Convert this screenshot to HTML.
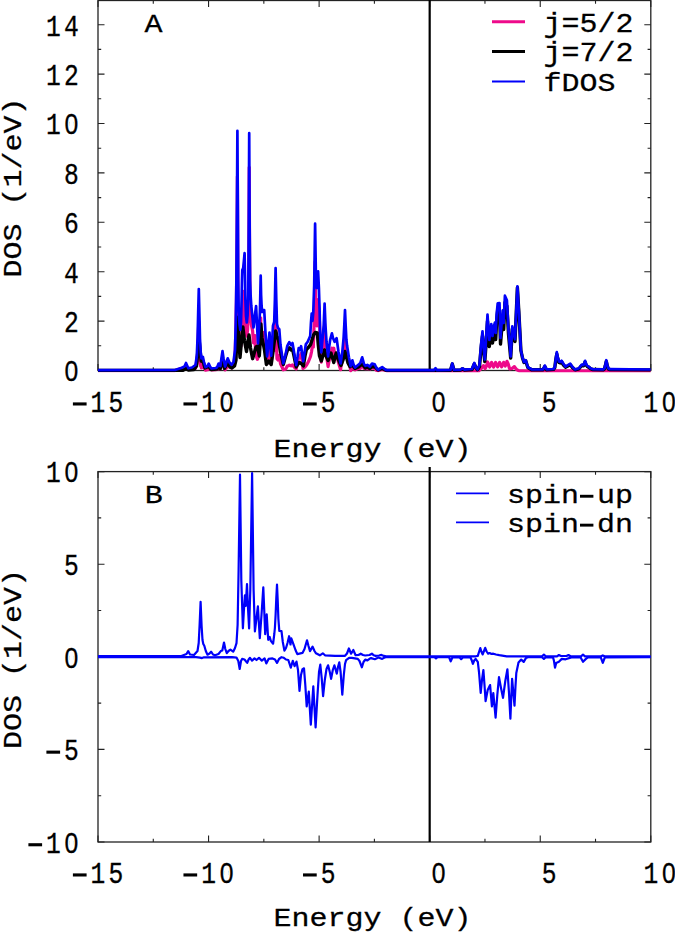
<!DOCTYPE html>
<html><head><meta charset="utf-8"><title>DOS</title>
<style>html,body{margin:0;padding:0;background:#fff}svg{display:block}</style></head><body>
<svg width="675" height="933" viewBox="0 0 675 933" style="font-family:'Liberation Mono',monospace;font-size:30px" fill="#000">
<rect width="675" height="933" fill="#fff"/>
<defs><clipPath id="ca"><rect x="98.0" y="0" width="552.80" height="372.5"/></clipPath><clipPath id="cb"><rect x="98.0" y="471.6" width="552.80" height="370.40"/></clipPath></defs>
<path d="M98.00 370.5v-6.5M98.00 0.5v6.5M208.56 370.5v-6.5M208.56 0.5v6.5M319.12 370.5v-6.5M319.12 0.5v6.5M429.68 370.5v-6.5M429.68 0.5v6.5M540.24 370.5v-6.5M540.24 0.5v6.5M650.80 370.5v-6.5M650.80 0.5v6.5M153.28 370.5v-3.2M153.28 0.5v3.2M263.84 370.5v-3.2M263.84 0.5v3.2M374.40 370.5v-3.2M374.40 0.5v3.2M484.96 370.5v-3.2M484.96 0.5v3.2M595.52 370.5v-3.2M595.52 0.5v3.2M98.0 370.50h6.5M650.8 370.50h-6.5M98.0 321.10h6.5M650.8 321.10h-6.5M98.0 271.70h6.5M650.8 271.70h-6.5M98.0 222.30h6.5M650.8 222.30h-6.5M98.0 172.90h6.5M650.8 172.90h-6.5M98.0 123.50h6.5M650.8 123.50h-6.5M98.0 74.10h6.5M650.8 74.10h-6.5M98.0 24.70h6.5M650.8 24.70h-6.5M98.0 345.80h3.2M650.8 345.80h-3.2M98.0 296.40h3.2M650.8 296.40h-3.2M98.0 247.00h3.2M650.8 247.00h-3.2M98.0 197.60h3.2M650.8 197.60h-3.2M98.0 148.20h3.2M650.8 148.20h-3.2M98.0 98.80h3.2M650.8 98.80h-3.2M98.0 49.40h3.2M650.8 49.40h-3.2" stroke="#222" stroke-width="1.1" fill="none"/>
<rect x="98.0" y="0.5" width="552.80" height="370.00" fill="none" stroke="#222" stroke-width="1.3"/>
<path d="M429.68 0V370.5" stroke="#000" stroke-width="2.2"/>
<path d="M98.0 370.6L175.0 370.6L181.8 368.3L183.0 367.8L184.5 367.9L186.0 365.3L187.5 367.9L188.4 369.2L188.5 369.1L192.0 368.6L194.0 367.4L195.5 368.4L196.5 362.9L196.8 364.0L197.6 353.6L197.8 347.5L198.2 336.3L198.8 321.4L198.9 327.0L199.4 341.9L200.0 359.8L200.7 366.4L201.2 366.3L201.4 368.0L202.9 366.3L203.0 366.8L204.0 368.1L205.0 368.3L205.5 370.2L207.5 369.8L208.7 367.9L210.0 369.1L211.0 369.1L211.5 369.8L216.2 369.7L217.0 368.9L217.5 369.1L218.6 367.9L219.6 368.7L220.4 368.3L221.5 365.8L222.5 364.0L223.6 366.0L224.5 365.9L225.1 369.9L226.5 367.7L227.7 366.1L229.5 367.2L230.0 366.8L231.6 367.8L232.0 367.0L233.5 366.0L234.5 358.8L235.0 356.8L235.8 332.0L236.0 318.8L236.4 301.9L236.9 249.1L237.0 237.8L237.4 176.4L237.8 253.5L238.2 324.4L238.7 345.1L238.8 344.3L239.5 344.6L240.0 340.9L240.3 346.4L241.0 346.3L241.2 341.0L241.8 335.0L242.6 318.0L243.2 300.0L243.7 291.3L244.2 300.0L245.0 320.0L246.0 333.0L246.8 336.0L247.6 330.0L248.3 310.0L248.8 254.6L249.0 212.4L249.2 167.3L249.6 250.6L250.1 306.3L250.5 314.8L250.6 317.3L251.3 324.7L252.6 330.8L253.5 342.8L254.5 338.0L255.0 335.5L255.5 352.0L256.5 357.0L257.4 359.3L258.3 357.0L259.2 350.0L259.3 338.8L259.9 336.2L260.0 333.5L260.3 327.8L260.7 317.8L260.9 332.1L261.1 339.3L261.6 343.9L262.0 342.8L262.2 343.9L263.0 338.1L263.5 335.8L264.2 332.3L264.5 336.3L265.3 344.7L266.4 352.4L267.1 363.5L268.3 353.9L269.0 347.5L269.5 341.5L270.3 352.7L271.2 362.0L272.2 353.2L273.0 344.5L274.2 350.4L274.5 343.4L274.9 333.8L275.6 307.1L275.7 312.4L276.3 337.5L277.0 358.8L278.0 360.1L278.5 359.3L279.3 355.3L280.5 363.8L283.3 369.8L285.5 369.3L287.3 366.1L288.3 365.7L289.3 365.2L291.0 365.8L292.5 365.0L294.0 366.8L294.2 367.0L296.2 368.9L297.5 363.0L298.0 360.1L298.7 355.8L299.4 357.5L299.8 357.9L301.1 353.6L301.2 354.3L302.0 359.4L303.0 368.5L305.0 367.0L306.6 365.0L308.5 361.5L310.5 356.5L311.5 352.0L312.5 345.0L313.3 347.1L313.5 341.8L314.2 321.8L315.1 261.7L315.3 275.0L316.0 320.1L316.8 325.9L317.3 322.5L317.4 320.6L318.1 299.6L318.3 301.3L318.9 308.3L319.5 321.7L319.6 324.5L320.3 352.6L321.3 362.1L322.6 352.4L323.0 349.1L323.7 343.1L324.5 326.8L324.6 324.0L325.5 342.8L326.0 348.8L326.5 355.7L328.1 366.6L329.0 361.2L329.5 359.3L330.1 356.2L331.0 354.6L331.9 348.2L332.5 348.7L333.0 349.1L333.8 348.2L334.6 353.8L335.0 354.9L336.2 356.7L336.6 354.8L338.5 362.8L340.6 369.7L341.0 366.1L342.3 360.9L343.0 355.3L343.6 351.4L344.3 341.3L345.0 329.3L345.7 342.7L346.4 354.2L346.5 354.6L347.1 357.2L348.0 359.4L348.9 363.4L350.0 366.8L350.7 370.8L352.4 366.2L353.7 369.1L355.0 369.7L355.1 369.9L358.5 368.4L358.7 368.4L360.3 368.3L361.3 366.1L362.2 364.1L363.1 366.1L364.0 368.5L365.3 368.6L367.3 368.7L369.8 369.0L372.0 367.9L374.7 368.2L375.0 368.8L376.5 370.4L378.2 370.6L380.5 369.9L382.2 369.4L384.5 370.2L386.0 370.3L386.7 370.9L478.9 370.9L479.0 370.5L481.2 368.5L483.4 365.6L485.2 368.6L486.5 366.0L487.6 362.0L489.6 367.0L491.6 362.5L493.6 367.0L495.6 362.5L497.6 366.8L499.6 362.5L501.6 366.8L503.6 362.3L505.3 366.0L507.0 361.3L508.2 364.0L509.6 368.8L512.0 368.5L514.4 366.6L516.5 369.5L519.0 370.8L519.1 370.9L650.8 370.9" fill="none" stroke="#ee0a8a" stroke-width="3.2" stroke-linejoin="round" stroke-linecap="butt" clip-path="url(#ca)"/>
<path d="M98.0 370.4L183.0 370.2L186.0 368.5L188.5 370.0L194.0 369.5L196.5 366.0L197.8 352.0L198.9 337.0L200.0 350.0L201.2 361.0L203.0 361.5L205.0 368.0L208.7 366.5L211.0 369.5L217.0 369.0L218.6 366.5L220.4 368.5L222.5 358.0L224.5 368.5L227.7 363.0L230.0 367.0L232.0 368.0L234.5 366.0L236.0 360.0L236.9 335.0L237.8 317.3L238.8 340.0L240.0 357.5L241.5 341.0L242.9 327.0L244.5 341.0L246.5 351.5L247.8 342.0L249.0 335.0L250.5 348.0L252.6 358.7L254.5 352.0L256.0 347.0L257.7 346.0L259.3 356.0L260.0 345.0L260.9 324.0L262.0 338.0L263.5 345.0L264.5 350.0L266.4 364.5L269.0 361.0L271.2 364.5L273.0 352.0L274.5 340.0L275.7 331.0L277.0 336.0L278.5 340.0L280.5 352.0L283.3 364.5L285.5 356.5L287.3 350.5L289.3 347.8L291.0 350.0L292.5 348.8L294.2 357.0L296.2 367.0L298.0 364.0L299.4 362.5L301.2 363.5L303.4 366.0L305.0 356.0L306.4 349.5L308.8 347.0L310.6 344.5L312.0 340.0L313.5 335.0L315.3 332.5L317.3 333.0L318.3 345.0L319.5 356.0L321.3 361.0L323.0 355.0L324.5 350.0L326.0 356.0L328.1 360.5L329.5 356.0L331.0 353.0L332.5 358.0L333.8 362.5L335.0 357.0L336.2 353.0L338.5 360.0L341.0 365.5L343.0 360.0L345.0 351.5L346.5 357.0L348.0 363.0L350.0 366.7L352.4 365.0L355.0 368.5L358.5 367.0L362.2 364.0L365.3 368.0L367.3 367.0L369.8 368.5L372.0 366.5L375.0 367.0L378.2 370.0L382.2 368.5L386.0 370.3L429.8 370.4L450.5 370.3L452.3 364.0L454.0 370.3L460.5 370.0L462.5 368.8L464.5 370.0L472.0 369.5L474.3 364.0L476.0 368.0L477.5 369.8L479.5 366.5L481.0 349.0L482.5 336.0L483.6 351.0L484.8 361.5L486.0 345.0L487.5 321.0L488.4 335.0L489.3 346.5L490.3 337.0L491.3 331.0L492.5 343.0L493.7 334.0L494.9 329.5L495.7 339.5L496.6 322.0L497.7 310.0L499.5 310.0L500.5 344.0L501.7 329.0L502.9 317.0L503.7 329.5L504.9 302.5L506.9 306.0L508.5 334.0L510.7 358.0L512.3 329.0L515.0 341.5L516.3 312.0L517.4 287.5L518.8 311.0L520.9 350.5L522.5 358.0L524.0 362.5L525.7 360.8L527.8 367.5L531.6 369.7L543.0 369.8L544.8 366.5L546.5 369.7L553.5 369.4L554.8 367.6L555.8 359.5L556.8 354.0L557.8 358.8L559.0 362.5L560.3 363.0L561.6 362.0L563.5 365.0L565.5 367.2L570.3 364.8L572.5 367.6L575.1 369.8L579.0 368.8L581.0 366.3L582.0 365.4L583.5 365.8L584.3 364.0L585.1 362.0L585.9 364.4L587.0 366.2L588.6 367.2L590.5 368.7L592.4 369.5L603.2 369.7L604.4 369.0L605.3 365.8L606.3 361.5L607.3 365.8L608.3 369.0L610.0 369.6L650.8 369.9" fill="none" stroke="#000" stroke-width="3.4" stroke-linejoin="round" stroke-linecap="butt" clip-path="url(#ca)"/>
<path d="M98.0 370.2L175.0 370.0L181.8 367.7L184.5 366.5L186.0 363.0L187.5 366.5L188.4 368.3L192.0 367.5L195.5 365.0L196.8 356.0L197.6 337.0L198.2 312.0L198.8 289.0L199.4 314.0L200.0 339.0L200.7 352.0L201.4 358.3L202.9 357.0L204.0 362.0L205.5 367.2L207.5 366.0L208.7 363.6L210.0 366.5L211.5 368.5L216.2 368.0L217.5 366.5L218.6 363.6L219.6 365.5L220.4 366.0L221.5 358.0L222.5 351.2L223.6 359.0L225.1 366.6L226.5 362.0L227.7 358.3L229.5 362.5L231.6 364.8L233.5 362.0L235.0 350.0L235.8 322.0L236.4 280.0L237.0 200.0L237.4 130.8L237.8 200.0L238.2 280.0L238.7 312.0L239.5 324.0L240.3 329.8L241.0 322.0L241.6 300.0L242.0 280.0L242.3 270.0L243.2 268.0L243.9 261.0L244.6 253.2L245.0 275.0L245.4 300.0L246.0 316.0L246.8 322.5L247.6 315.0L248.3 295.0L248.8 220.0L249.2 133.2L249.6 220.0L250.1 280.0L250.6 295.0L251.3 306.0L253.5 327.5L255.0 315.0L256.1 306.0L257.0 325.0L258.0 343.3L259.2 326.0L259.9 312.0L260.3 295.0L260.7 275.7L261.1 295.0L261.6 306.0L262.2 312.0L263.0 310.0L264.2 310.0L265.3 330.0L267.1 356.3L268.3 345.0L269.5 332.5L270.3 345.0L271.2 355.7L272.2 340.0L273.0 325.7L274.2 322.0L274.9 300.0L275.6 268.0L276.3 300.0L277.0 324.0L278.0 328.0L279.3 329.3L280.5 345.0L283.3 363.5L285.5 355.0L287.3 345.8L288.3 344.0L289.3 342.2L291.0 345.0L292.5 343.0L294.0 352.0L296.2 365.1L297.5 357.0L298.7 348.2L299.8 349.8L301.1 346.2L302.0 353.0L303.2 361.3L304.5 353.0L305.8 344.4L307.7 341.8L310.2 336.0L311.0 322.0L311.7 313.5L312.5 321.0L313.3 312.0L314.2 285.0L315.1 223.7L316.0 282.0L316.8 288.0L317.4 284.0L318.1 271.4L318.9 288.0L319.6 310.0L320.3 340.0L321.3 352.3L322.6 338.0L323.7 325.0L324.6 303.6L325.5 326.0L326.5 342.0L328.1 356.3L329.0 348.0L330.1 340.2L331.9 333.4L333.0 338.0L334.6 341.8L336.6 338.2L338.5 352.0L340.6 363.5L342.3 352.0L343.6 338.0L344.3 325.0L345.0 310.0L345.7 326.0L346.4 340.0L347.1 345.8L348.9 357.3L350.7 366.2L352.4 360.4L353.7 365.0L355.1 367.6L358.7 364.4L360.3 363.0L361.3 360.0L362.2 357.3L363.1 360.5L364.0 364.0L365.3 365.8L367.3 364.9L369.8 366.7L372.0 363.6L374.7 364.4L376.5 368.0L378.2 369.8L380.5 368.2L382.2 367.1L384.5 369.0L386.7 370.2L429.8 370.2L434.0 370.2L435.6 368.2L437.0 370.2L450.5 370.0L452.3 363.5L454.0 370.0L460.5 369.7L462.5 368.4L464.5 369.7L472.0 369.0L474.3 363.0L475.8 367.5L477.5 369.5L479.5 365.0L481.0 345.0L482.5 331.3L483.6 348.0L484.8 359.5L486.0 340.0L487.5 314.7L488.4 328.0L489.3 340.0L490.3 330.0L491.3 324.0L492.5 336.0L493.7 327.0L494.9 322.6L495.7 333.0L496.6 315.0L497.7 303.3L499.5 303.0L500.5 338.0L501.7 322.0L502.9 310.4L503.7 323.0L504.9 295.7L506.9 300.2L508.5 330.0L510.7 356.5L512.3 326.4L515.0 339.3L516.3 310.0L517.4 286.3L518.8 310.0L520.9 350.0L522.5 357.5L524.0 362.0L525.7 360.2L527.8 367.2L531.6 369.3L543.0 369.5L544.8 365.6L546.5 369.3L553.5 369.0L554.8 367.0L555.8 358.5L556.8 352.2L557.8 357.5L559.0 361.5L560.3 362.0L561.6 360.8L563.5 364.0L565.5 366.6L570.3 363.7L572.5 367.0L575.1 369.5L579.0 368.3L581.0 365.5L582.0 364.5L583.5 365.0L584.3 363.0L585.1 360.8L585.9 363.5L587.0 365.5L588.6 366.6L590.5 368.3L592.4 369.1L603.2 369.3L604.4 368.5L605.3 365.0L606.3 360.2L607.3 365.0L608.3 368.5L610.0 369.2L650.8 369.5" fill="none" stroke="#0000fa" stroke-width="2.7" stroke-linejoin="round" stroke-linecap="butt" clip-path="url(#ca)"/>
<path d="M98.00 842.0v-6.5M98.00 471.6v6.5M208.56 842.0v-6.5M208.56 471.6v6.5M319.12 842.0v-6.5M319.12 471.6v6.5M429.68 842.0v-6.5M429.68 471.6v6.5M540.24 842.0v-6.5M540.24 471.6v6.5M650.80 842.0v-6.5M650.80 471.6v6.5M153.28 842.0v-3.2M153.28 471.6v3.2M263.84 842.0v-3.2M263.84 471.6v3.2M374.40 842.0v-3.2M374.40 471.6v3.2M484.96 842.0v-3.2M484.96 471.6v3.2M595.52 842.0v-3.2M595.52 471.6v3.2M98.0 842.00h6.5M650.8 842.00h-6.5M98.0 749.40h6.5M650.8 749.40h-6.5M98.0 656.80h6.5M650.8 656.80h-6.5M98.0 564.20h6.5M650.8 564.20h-6.5M98.0 471.60h6.5M650.8 471.60h-6.5M98.0 795.70h3.2M650.8 795.70h-3.2M98.0 703.10h3.2M650.8 703.10h-3.2M98.0 610.50h3.2M650.8 610.50h-3.2M98.0 517.90h3.2M650.8 517.90h-3.2" stroke="#222" stroke-width="1.1" fill="none"/>
<rect x="98.0" y="471.6" width="552.80" height="370.40" fill="none" stroke="#222" stroke-width="1.3"/>
<path d="M429.68 466.90V842.0" stroke="#000" stroke-width="2.2"/>
<path d="M98.0 656.2L180.7 656.2L186.5 654.0L188.2 651.1L190.0 654.5L194.0 655.0L197.5 651.0L198.7 643.0L199.6 625.0L200.6 601.8L201.6 626.0L202.5 640.0L203.3 644.0L204.3 645.7L205.8 651.0L207.5 654.7L209.5 653.5L211.1 651.7L213.0 654.5L215.0 655.3L218.5 654.0L220.8 651.1L222.3 650.5L224.0 642.5L225.3 649.0L226.8 653.2L228.5 651.0L230.4 649.6L233.2 651.7L235.0 648.0L236.5 643.2L237.6 625.0L238.6 570.0L240.0 474.7L241.3 580.0L242.9 628.3L243.8 612.0L244.9 595.3L245.7 606.0L247.0 584.1L248.0 608.0L249.1 628.5L250.3 590.0L252.1 473.2L253.6 590.0L254.9 631.4L256.5 618.0L257.9 606.4L258.8 622.0L259.8 638.1L261.5 615.0L263.3 587.4L264.3 612.0L265.2 634.2L266.7 614.3L267.5 628.0L268.2 639.8L269.7 637.0L270.8 640.9L273.1 643.7L274.3 634.0L274.9 628.0L275.6 615.0L276.3 598.0L277.0 584.6L277.7 600.0L278.4 619.0L279.3 630.8L281.5 631.2L282.8 642.0L284.4 650.6L286.0 648.0L287.5 643.0L289.1 636.2L290.5 644.5L291.3 638.3L293.5 644.3L295.5 650.0L297.3 654.1L302.5 652.9L304.5 649.0L307.0 640.3L308.5 646.0L310.0 651.1L312.6 646.6L314.5 651.0L316.0 653.3L319.8 655.3L322.8 653.3L325.0 655.3L335.0 655.8L345.0 655.8L347.0 653.5L348.9 648.5L351.1 653.7L353.3 650.0L355.6 655.2L358.5 655.0L360.7 653.7L363.0 655.0L365.2 655.5L369.5 655.0L371.9 653.7L373.8 655.3L375.6 655.9L379.0 655.5L381.5 654.9L384.0 655.9L386.0 656.3L476.0 656.3L477.8 655.9L479.0 652.0L480.3 648.1L481.5 652.0L482.7 654.4L484.0 651.0L485.2 647.8L486.6 651.5L488.1 653.7L489.6 653.0L491.5 653.9L493.3 653.7L496.0 654.5L499.3 655.2L506.7 656.3L542.0 656.3L543.9 654.7L545.8 656.3L557.0 656.3L558.9 655.0L561.0 656.0L566.5 656.0L568.5 655.0L570.5 656.2L581.0 656.3L583.0 654.7L585.0 656.3L601.0 656.3L602.8 655.4L604.6 656.3L650.8 656.3" fill="none" stroke="#0000fa" stroke-width="2.2" stroke-linejoin="round" stroke-linecap="butt" clip-path="url(#cb)"/>
<path d="M98.0 657.1L196.0 657.1L200.0 657.6L202.0 658.1L204.0 657.3L232.0 657.2L236.5 657.6L238.3 661.0L239.7 669.0L241.0 661.0L242.1 658.9L244.5 659.5L247.2 662.9L248.6 659.5L250.0 657.8L252.0 660.6L254.5 658.4L256.5 660.0L259.0 657.8L261.8 660.6L264.6 658.4L266.3 663.4L268.6 658.9L272.5 658.4L275.0 659.5L277.0 662.9L279.0 659.0L281.5 657.2L283.8 657.8L286.0 659.5L288.3 660.0L290.8 667.6L292.8 660.8L294.6 666.1L296.5 661.6L298.0 670.0L299.5 690.9L301.0 675.0L302.5 669.1L304.0 668.3L305.3 685.0L306.7 706.4L308.8 691.6L310.8 724.7L313.3 686.4L315.6 727.4L317.5 695.0L319.0 672.0L320.3 664.6L321.7 678.0L323.1 696.1L324.8 680.0L326.5 669.0L328.1 665.3L329.8 672.0L331.1 678.9L332.8 670.0L334.4 665.3L336.8 673.6L338.0 667.0L339.3 662.3L340.6 672.0L342.3 694.6L343.8 675.0L345.0 664.0L346.1 660.1L349.1 657.8L351.9 657.9L357.8 658.9L359.5 661.0L361.9 667.3L363.5 662.0L365.2 659.6L367.4 660.4L369.5 658.8L371.1 658.1L374.8 659.2L378.5 657.4L382.2 658.9L385.0 657.3L386.0 657.1L434.5 657.1L436.0 658.4L437.5 657.1L449.0 657.2L450.7 661.4L452.5 657.3L459.5 657.2L461.2 659.2L463.0 657.3L470.5 657.5L471.8 660.5L472.9 663.8L474.2 660.5L475.6 658.9L477.8 661.9L479.0 672.0L480.7 693.0L482.0 680.0L483.4 670.0L484.5 685.0L485.6 701.1L487.7 690.0L490.1 685.1L491.9 706.3L493.3 693.0L495.6 717.7L497.3 695.0L499.0 677.1L501.0 688.0L503.0 697.9L505.3 681.0L507.4 669.3L509.0 693.0L510.4 718.6L511.3 697.0L512.1 678.9L513.3 692.0L514.5 705.6L515.5 686.0L516.3 673.0L518.5 662.6L521.2 659.6L523.7 661.9L525.9 658.1L528.0 657.2L542.0 657.2L543.9 658.9L545.8 657.2L553.0 657.3L554.0 661.0L555.0 667.6L556.2 663.0L558.9 661.8L561.8 658.9L565.6 659.3L571.4 657.4L580.5 657.3L583.0 661.8L585.9 658.9L588.0 657.3L600.8 657.3L602.8 662.8L604.8 657.5L650.8 657.1" fill="none" stroke="#0000fa" stroke-width="2.2" stroke-linejoin="round" stroke-linecap="butt" clip-path="url(#cb)"/>
<text transform="translate(71.50,381.30) scale(0.88,1.04)" text-anchor="middle" font-size="28" stroke="#000" stroke-width="0.3">0</text>
<ellipse cx="71.50" cy="371.60" rx="2.2" ry="4.4" fill="#fff"/>
<text transform="translate(71.50,331.90) scale(0.88,1.04)" text-anchor="middle" font-size="28" stroke="#000" stroke-width="0.3">2</text>
<text transform="translate(71.50,282.50) scale(0.88,1.04)" text-anchor="middle" font-size="28" stroke="#000" stroke-width="0.3">4</text>
<text transform="translate(71.50,233.10) scale(0.88,1.04)" text-anchor="middle" font-size="28" stroke="#000" stroke-width="0.3">6</text>
<text transform="translate(71.50,183.70) scale(0.88,1.04)" text-anchor="middle" font-size="28" stroke="#000" stroke-width="0.3">8</text>
<text transform="translate(53.50,134.30) scale(0.88,1.04)" text-anchor="middle" font-size="28" stroke="#000" stroke-width="0.3">1</text>
<text transform="translate(71.50,134.30) scale(0.88,1.04)" text-anchor="middle" font-size="28" stroke="#000" stroke-width="0.3">0</text>
<ellipse cx="71.50" cy="124.60" rx="2.2" ry="4.4" fill="#fff"/>
<text transform="translate(53.50,84.90) scale(0.88,1.04)" text-anchor="middle" font-size="28" stroke="#000" stroke-width="0.3">1</text>
<text transform="translate(71.50,84.90) scale(0.88,1.04)" text-anchor="middle" font-size="28" stroke="#000" stroke-width="0.3">2</text>
<text transform="translate(53.50,35.50) scale(0.88,1.04)" text-anchor="middle" font-size="28" stroke="#000" stroke-width="0.3">1</text>
<text transform="translate(71.50,35.50) scale(0.88,1.04)" text-anchor="middle" font-size="28" stroke="#000" stroke-width="0.3">4</text>
<rect x="28.40" y="843.20" width="13.7" height="3.1" fill="#000"/>
<text transform="translate(53.50,852.80) scale(0.88,1.04)" text-anchor="middle" font-size="28" stroke="#000" stroke-width="0.3">1</text>
<text transform="translate(71.50,852.80) scale(0.88,1.04)" text-anchor="middle" font-size="28" stroke="#000" stroke-width="0.3">0</text>
<ellipse cx="71.50" cy="843.10" rx="2.2" ry="4.4" fill="#fff"/>
<rect x="46.40" y="750.60" width="13.7" height="3.1" fill="#000"/>
<text transform="translate(71.50,760.20) scale(0.88,1.04)" text-anchor="middle" font-size="28" stroke="#000" stroke-width="0.3">5</text>
<text transform="translate(71.50,667.60) scale(0.88,1.04)" text-anchor="middle" font-size="28" stroke="#000" stroke-width="0.3">0</text>
<ellipse cx="71.50" cy="657.90" rx="2.2" ry="4.4" fill="#fff"/>
<text transform="translate(71.50,575.00) scale(0.88,1.04)" text-anchor="middle" font-size="28" stroke="#000" stroke-width="0.3">5</text>
<text transform="translate(53.50,482.40) scale(0.88,1.04)" text-anchor="middle" font-size="28" stroke="#000" stroke-width="0.3">1</text>
<text transform="translate(71.50,482.40) scale(0.88,1.04)" text-anchor="middle" font-size="28" stroke="#000" stroke-width="0.3">0</text>
<ellipse cx="71.50" cy="472.70" rx="2.2" ry="4.4" fill="#fff"/>
<rect x="72.90" y="402.40" width="13.7" height="3.1" fill="#000"/>
<text transform="translate(98.00,412.00) scale(0.88,1.04)" text-anchor="middle" font-size="28" stroke="#000" stroke-width="0.3">1</text>
<text transform="translate(116.00,412.00) scale(0.88,1.04)" text-anchor="middle" font-size="28" stroke="#000" stroke-width="0.3">5</text>
<rect x="72.90" y="873.40" width="13.7" height="3.1" fill="#000"/>
<text transform="translate(98.00,883.00) scale(0.88,1.04)" text-anchor="middle" font-size="28" stroke="#000" stroke-width="0.3">1</text>
<text transform="translate(116.00,883.00) scale(0.88,1.04)" text-anchor="middle" font-size="28" stroke="#000" stroke-width="0.3">5</text>
<rect x="183.46" y="402.40" width="13.7" height="3.1" fill="#000"/>
<text transform="translate(208.56,412.00) scale(0.88,1.04)" text-anchor="middle" font-size="28" stroke="#000" stroke-width="0.3">1</text>
<text transform="translate(226.56,412.00) scale(0.88,1.04)" text-anchor="middle" font-size="28" stroke="#000" stroke-width="0.3">0</text>
<ellipse cx="226.56" cy="402.30" rx="2.2" ry="4.4" fill="#fff"/>
<rect x="183.46" y="873.40" width="13.7" height="3.1" fill="#000"/>
<text transform="translate(208.56,883.00) scale(0.88,1.04)" text-anchor="middle" font-size="28" stroke="#000" stroke-width="0.3">1</text>
<text transform="translate(226.56,883.00) scale(0.88,1.04)" text-anchor="middle" font-size="28" stroke="#000" stroke-width="0.3">0</text>
<ellipse cx="226.56" cy="873.30" rx="2.2" ry="4.4" fill="#fff"/>
<rect x="303.02" y="402.40" width="13.7" height="3.1" fill="#000"/>
<text transform="translate(328.12,412.00) scale(0.88,1.04)" text-anchor="middle" font-size="28" stroke="#000" stroke-width="0.3">5</text>
<rect x="303.02" y="873.40" width="13.7" height="3.1" fill="#000"/>
<text transform="translate(328.12,883.00) scale(0.88,1.04)" text-anchor="middle" font-size="28" stroke="#000" stroke-width="0.3">5</text>
<text transform="translate(438.68,412.00) scale(0.88,1.04)" text-anchor="middle" font-size="28" stroke="#000" stroke-width="0.3">0</text>
<ellipse cx="438.68" cy="402.30" rx="2.2" ry="4.4" fill="#fff"/>
<text transform="translate(438.68,883.00) scale(0.88,1.04)" text-anchor="middle" font-size="28" stroke="#000" stroke-width="0.3">0</text>
<ellipse cx="438.68" cy="873.30" rx="2.2" ry="4.4" fill="#fff"/>
<text transform="translate(549.24,412.00) scale(0.88,1.04)" text-anchor="middle" font-size="28" stroke="#000" stroke-width="0.3">5</text>
<text transform="translate(549.24,883.00) scale(0.88,1.04)" text-anchor="middle" font-size="28" stroke="#000" stroke-width="0.3">5</text>
<text transform="translate(650.80,412.00) scale(0.88,1.04)" text-anchor="middle" font-size="28" stroke="#000" stroke-width="0.3">1</text>
<text transform="translate(668.80,412.00) scale(0.88,1.04)" text-anchor="middle" font-size="28" stroke="#000" stroke-width="0.3">0</text>
<ellipse cx="668.80" cy="402.30" rx="2.2" ry="4.4" fill="#fff"/>
<text transform="translate(650.80,883.00) scale(0.88,1.04)" text-anchor="middle" font-size="28" stroke="#000" stroke-width="0.3">1</text>
<text transform="translate(668.80,883.00) scale(0.88,1.04)" text-anchor="middle" font-size="28" stroke="#000" stroke-width="0.3">0</text>
<ellipse cx="668.80" cy="873.30" rx="2.2" ry="4.4" fill="#fff"/>
<text transform="translate(372.50,457.40) scale(1,0.87)" text-anchor="middle" font-size="30" stroke="#000" stroke-width="0.3">Energy (eV)</text>
<text transform="translate(372.50,926.40) scale(1,0.87)" text-anchor="middle" font-size="30" stroke="#000" stroke-width="0.3">Energy (eV)</text>
<text transform="translate(21.20,187.50) rotate(-90) scale(1,0.87)" text-anchor="middle" font-size="30" stroke="#000" stroke-width="0.3">DOS (1/eV)</text>
<text transform="translate(21.20,659.00) rotate(-90) scale(1,0.87)" text-anchor="middle" font-size="30" stroke="#000" stroke-width="0.3">DOS (1/eV)</text>
<text transform="translate(153.50,31.90) scale(1,0.87)" text-anchor="middle" font-size="30" stroke="#000" stroke-width="0.3">A</text>
<text transform="translate(153.80,502.50) scale(1,0.87)" text-anchor="middle" font-size="30" stroke="#000" stroke-width="0.3">B</text>
<path d="M492 21.7H525" stroke="#ee0a8a" stroke-width="3"/>
<path d="M492 51.6H525" stroke="#000" stroke-width="3"/>
<path d="M492 81.6H525" stroke="#0000fa" stroke-width="2"/>
<text transform="translate(543.50,31.50) scale(1,0.93)" text-anchor="start" font-size="30" stroke="#000" stroke-width="0.3">j=5/2</text>
<text transform="translate(543.50,61.30) scale(1,0.93)" text-anchor="start" font-size="30" stroke="#000" stroke-width="0.3">j=7/2</text>
<text transform="translate(543.50,90.70) scale(1,0.87)" text-anchor="start" font-size="30" stroke="#000" stroke-width="0.3">fDOS</text>
<path d="M456 493.4H489" stroke="#0000fa" stroke-width="1.7"/>
<path d="M456 522.4H489" stroke="#0000fa" stroke-width="1.7"/>
<text transform="translate(507.00,502.60) scale(1,0.87)" text-anchor="start" font-size="30" stroke="#000" stroke-width="0.3">spin up</text>
<text transform="translate(507.00,531.70) scale(1,0.87)" text-anchor="start" font-size="30" stroke="#000" stroke-width="0.3">spin dn</text>
<rect x="580" y="494.8" width="13.4" height="2.9"/>
<rect x="580" y="523.7" width="13.4" height="2.9"/>
</svg></body></html>
